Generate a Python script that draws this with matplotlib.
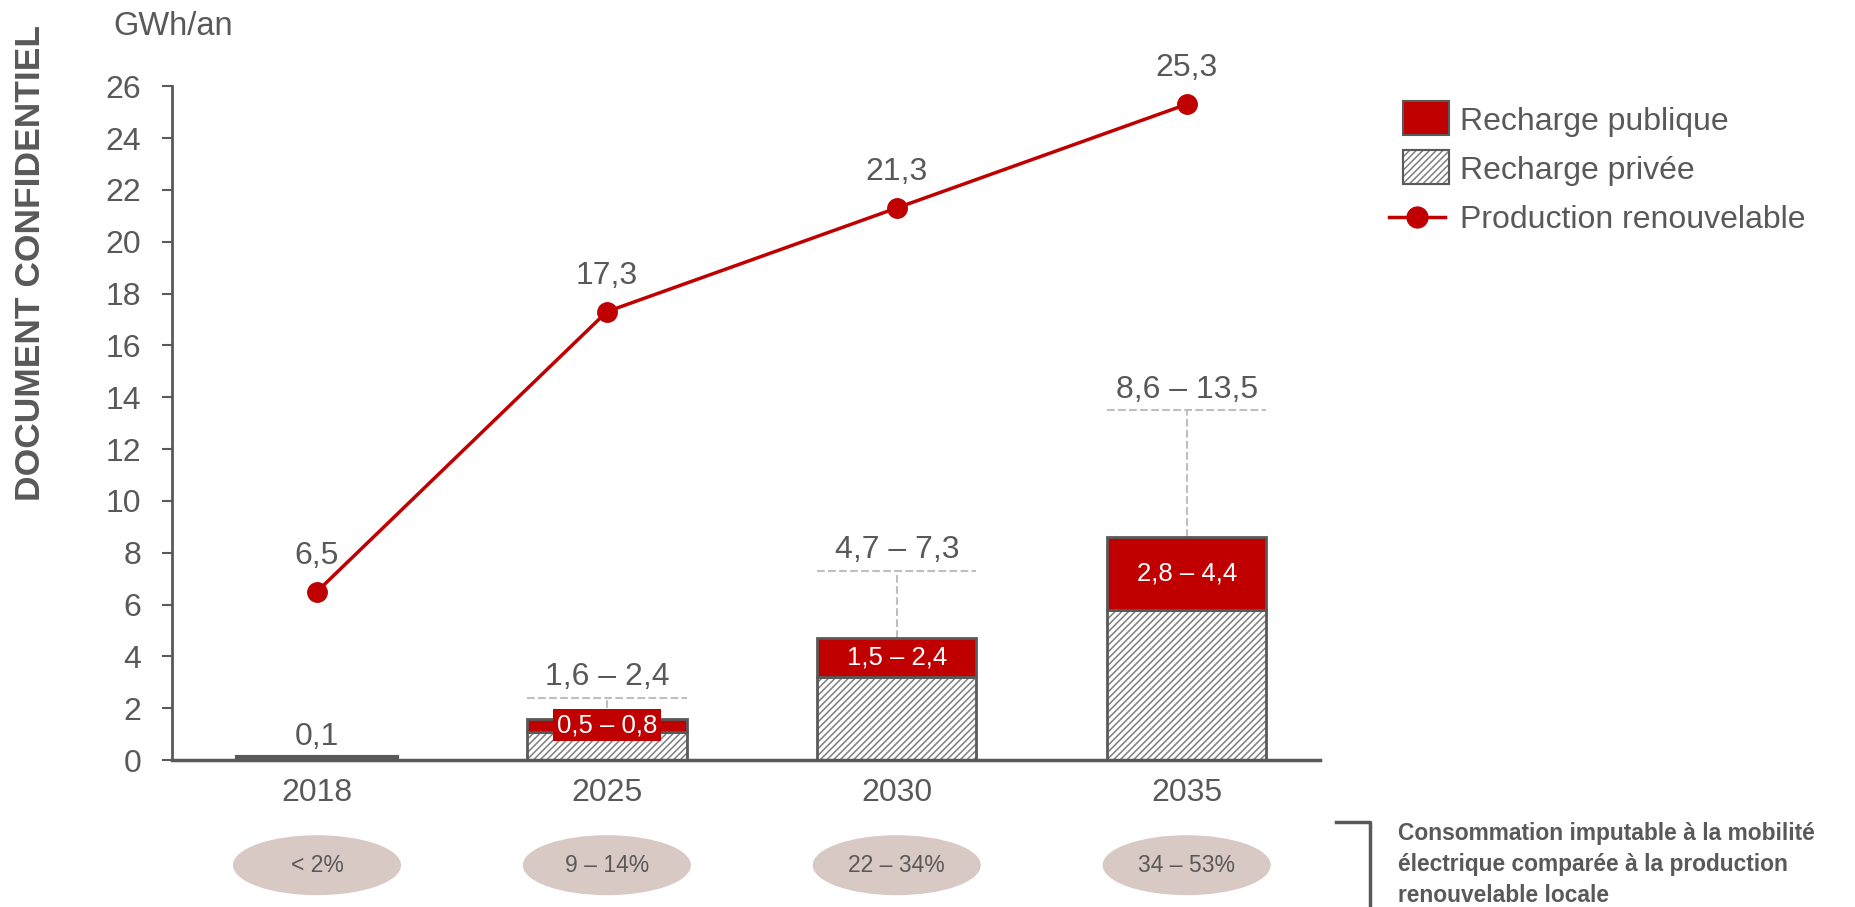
import matplotlib
matplotlib.use("Agg")
import matplotlib.pyplot as plt
import matplotlib.transforms as mtransforms
from matplotlib.patches import Ellipse, Rectangle
from matplotlib.lines import Line2D

plt.rcParams['font.family'] = ['Liberation Sans', 'DejaVu Sans']
plt.rcParams['hatch.linewidth'] = 1.1

# Données (GWh/an)
years = ['2018', '2025', '2030', '2035']
total_low = [0.1, 1.6, 4.7, 8.6]
total_high = [0.1, 2.4, 7.3, 13.5]
public_low = [0.0, 0.5, 1.5, 2.8]
public_high = [0.0, 0.8, 2.4, 4.4]
production = [6.5, 17.3, 21.3, 25.3]
share_labels = ['< 2%', '9 – 14%', '22 – 34%', '34 – 53%']

RED = '#C00000'
GREY = '#595959'
LIGHT = '#BFBFBF'
HATCH_GREY = '#7F7F7F'
HATCH = '/////'
W, H = 1856, 907


def fmt(v):
    return f'{v:.1f}'.replace('.', ',')


def fx(px):
    return px / W


def fy(py):
    return 1 - py / H


fig = plt.figure(figsize=(W / 100, H / 100), dpi=100)
ax = fig.add_axes([0.0927, 0.162, 0.6185, 0.743])

x = list(range(len(years)))
width = 0.55
private_low = [t - p for t, p in zip(total_low, public_low)]

for i in x:
    if public_low[i] == 0:
        # 2018 : barre unique, sans détail public / privé
        ax.bar(i, total_low[i], width, color=GREY, edgecolor=GREY, linewidth=3, zorder=3)
        continue
    # privée : hachures grises puis contour foncé
    ax.bar(i, private_low[i], width, color='white', edgecolor=HATCH_GREY,
           hatch=HATCH, linewidth=0, zorder=2)
    ax.bar(i, private_low[i], width, color='none', edgecolor=GREY, linewidth=2, zorder=3)
    ax.bar(i, public_low[i], width, bottom=private_low[i], color=RED,
           edgecolor=GREY, linewidth=2, zorder=3)
    ax.text(i, private_low[i] + public_low[i] / 2,
            f'{fmt(public_low[i])} – {fmt(public_high[i])}',
            ha='center', va='center', fontsize=18.5, color='white', zorder=5,
            bbox=dict(facecolor=RED, edgecolor='none', pad=3))

# fourchettes hautes en pointillés
for i in x:
    if total_high[i] > total_low[i]:
        ax.plot([i - width / 2, i + width / 2], [total_high[i]] * 2,
                ls='--', color=LIGHT, lw=1.5, zorder=1)
        ax.plot([i, i], [total_low[i], total_high[i]],
                ls='--', color=LIGHT, lw=1.5, zorder=1)
        label = f'{fmt(total_low[i])} – {fmt(total_high[i])}'
    else:
        label = fmt(total_low[i])
    ax.annotate(label, (i, total_high[i]), xytext=(0, 4), textcoords='offset points',
                ha='center', va='bottom', fontsize=23, color=GREY)

# production renouvelable
ax.plot(x, production, color=RED, lw=2.5, marker='o', markersize=14, zorder=4)
for i, v in zip(x, production):
    ax.annotate(fmt(v), (i, v), xytext=(0, 15), textcoords='offset points',
                ha='center', va='bottom', fontsize=23, color=GREY)

ax.set_xlim(-0.5, 3.46)
ax.set_ylim(0, 26)
ax.set_yticks(range(0, 27, 2))
ax.set_xticks(x)
ax.set_xticklabels(years)
ax.tick_params(axis='y', labelsize=23, colors=GREY, length=7, width=1.5, pad=15)
ax.tick_params(axis='x', labelsize=23, colors=GREY, length=0, pad=13)
for side in ['top', 'right']:
    ax.spines[side].set_visible(False)
ax.spines['left'].set_color(GREY)
ax.spines['left'].set_linewidth(2)
ax.spines['bottom'].set_color(GREY)
ax.spines['bottom'].set_linewidth(2.5)

# ellipses de part sous l'axe
trans = mtransforms.blended_transform_factory(ax.transData, ax.transAxes)
for i, s in zip(x, share_labels):
    ax.add_patch(Ellipse((i, -0.156), 0.58, 0.089, transform=trans,
                         facecolor='#D9C9C5', edgecolor='none', clip_on=False))
    ax.text(i, -0.156, s, transform=trans, ha='center', va='center',
            fontsize=16.5, color=GREY)

# légende dessinée à la main
fig.add_artist(Rectangle((fx(1403), fy(135)), fx(46), 34 / H, transform=fig.transFigure,
                         facecolor=RED, edgecolor=GREY, linewidth=1.5))
fig.add_artist(Rectangle((fx(1403), fy(184)), fx(46), 34 / H, transform=fig.transFigure,
                         facecolor='white', edgecolor=HATCH_GREY, hatch=HATCH, linewidth=1.5))
fig.add_artist(Rectangle((fx(1403), fy(184)), fx(46), 34 / H, transform=fig.transFigure,
                         facecolor='none', edgecolor=GREY, linewidth=1.5))
fig.add_artist(Line2D([fx(1389), fx(1445)], [fy(217), fy(217)], color=RED, lw=2.5))
fig.add_artist(Line2D([fx(1417)], [fy(217)], color=RED, marker='o', markersize=15))
for yy, lab in zip([118, 167, 217], ['Recharge publique', 'Recharge privée', 'Production renouvelable']):
    fig.text(fx(1460), fy(yy), lab, ha='left', va='center_baseline', fontsize=23, color=GREY)

# textes hors axes
fig.text(fx(113), fy(35), 'GWh/an', ha='left', va='baseline', fontsize=23.5, color=GREY)
fig.text(fx(31), fy(263), 'DOCUMENT CONFIDENTIEL', rotation=90,
         ha='center', va='center', fontsize=25.5, fontweight='bold', color=GREY)

fig.add_artist(Line2D([fx(1336), fx(1370), fx(1370)], [fy(822), fy(822), 0],
                      color=GREY, lw=2.5))
fig.text(fx(1398), fy(822),
         'Consommation imputable à la mobilité\nélectrique comparée à la production\nrenouvelable locale',
         ha='left', va='top', fontsize=16.4, fontweight='bold', color=GREY, linespacing=1.45)

fig.savefig('out.png', dpi=100)
